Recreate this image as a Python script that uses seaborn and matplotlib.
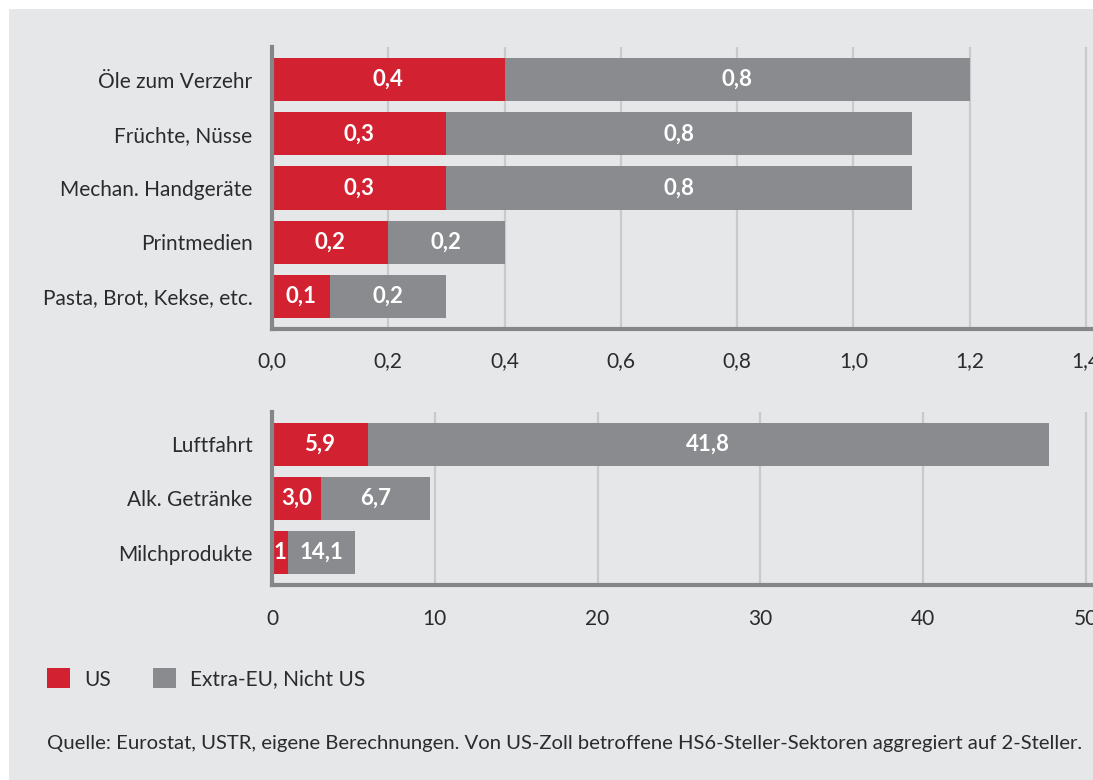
import numpy as np
import pandas as pd
import seaborn as sns
import matplotlib.pyplot as plt
from matplotlib.patches import Rectangle, Patch
from matplotlib.ticker import FuncFormatter

# --- Daten ---
kategorien_oben = ["Öle zum Verzehr", "Früchte, Nüsse", "Mechan. Handgeräte",
                   "Printmedien", "Pasta, Brot, Kekse, etc."]
us_oben = [0.4, 0.3, 0.3, 0.2, 0.1]
rest_oben = [0.8, 0.8, 0.8, 0.2, 0.2]
us_oben_txt = ["0,4", "0,3", "0,3", "0,2", "0,1"]
rest_oben_txt = ["0,8", "0,8", "0,8", "0,2", "0,2"]

kategorien_unten = ["Luftfahrt", "Alk. Getränke", "Milchprodukte"]
us_unten = [5.9, 3.0, 1.0]
rest_unten = [41.8, 6.7, 4.1]
us_unten_txt = ["5,9", "3,0", "1"]
rest_unten_txt = ["41,8", "6,7", "14,1"]

ticks_oben = [0.0, 0.2, 0.4, 0.6, 0.8, 1.0, 1.2, 1.4]
ticks_unten = [0, 10, 20, 30, 40, 50]

legende = ["US", "Extra-EU, Nicht US"]
quelle = ("Quelle: Eurostat, USTR, eigene Berechnungen. Von US-Zoll betroffene "
          "HS6-Steller-Sektoren aggregiert auf 2-Steller.")

# --- Stil ---
ROT = "#d22232"
GRAU = "#8a8b8e"
HG = "#e6e7e9"
ACHSE = "#858688"
GITTER = "#c9cacc"
TXT = "#2b2b2b"

sns.set_style("white")
plt.rcParams["font.family"] = ["Lato", "DejaVu Sans"]

W, H = 1093, 780
fig = plt.figure(figsize=(W / 100, H / 100), dpi=100, facecolor="white")
fig.patches.append(Rectangle((9 / W, 0), 1, (H - 9) / H, transform=fig.transFigure,
                             facecolor=HG, edgecolor="none", zorder=-10))

# Achsen laufen bis an den rechten Bildrand, letzter Tick liegt bei x=1086 px
X0, XTICK, XR = 272, 1086, W


def px_axes(top, bottom):
    return fig.add_axes([X0 / W, 1 - bottom / H, (XR - X0) / W, (bottom - top) / H])


def panel(ax, cats, us, rest, us_txt, rest_txt, ticks, fmt, pad):
    df = pd.DataFrame({"kat": cats, "us": us, "rest": rest})
    df["gesamt"] = df["us"] + df["rest"]
    sns.barplot(data=df, x="gesamt", y="kat", color=GRAU, width=0.8,
                saturation=1, errorbar=None, ax=ax, orient="h", linewidth=0)
    sns.barplot(data=df, x="us", y="kat", color=ROT, width=0.8,
                saturation=1, errorbar=None, ax=ax, orient="h", linewidth=0)
    for i, row in df.iterrows():
        ax.text(row["us"] / 2, i, us_txt[i], color="white", fontsize=16,
                fontweight="bold", ha="center", va="center")
        ax.text(row["us"] + row["rest"] / 2, i, rest_txt[i], color="white",
                fontsize=16, fontweight="bold", ha="center", va="center")
    ax.set_facecolor("none")
    ax.set_xlim(ticks[0], ticks[-1] * (XR - X0) / (XTICK - X0))
    ax.set_ylim(len(cats) - 0.4, -0.6)
    ax.set_xticks(ticks)
    ax.xaxis.set_major_formatter(FuncFormatter(fmt))
    ax.set_xlabel("")
    ax.set_ylabel("")
    ax.grid(axis="x", color=GITTER, lw=1.6)
    ax.set_axisbelow(True)
    for s in ["top", "right"]:
        ax.spines[s].set_visible(False)
    for s in ["left", "bottom"]:
        ax.spines[s].set_color(ACHSE)
        ax.spines[s].set_linewidth(3)
        ax.spines[s].set_zorder(5)
    ax.tick_params(axis="x", length=0, pad=pad, labelsize=15, labelcolor=TXT)
    ax.tick_params(axis="y", length=0, pad=14, labelsize=15, labelcolor=TXT)


ax1 = px_axes(47, 329)
panel(ax1, kategorien_oben, us_oben, rest_oben, us_oben_txt, rest_oben_txt,
      ticks_oben, lambda v, p: f"{v:.1f}".replace(".", ","), 16)

ax2 = px_axes(412, 585)
panel(ax2, kategorien_unten, us_unten, rest_unten, us_unten_txt, rest_unten_txt,
      ticks_unten, lambda v, p: f"{v:.0f}", 17)

handles = [Patch(facecolor=ROT, edgecolor="none"), Patch(facecolor=GRAU, edgecolor="none")]
fig.legend(handles, legende, loc="center left", bbox_to_anchor=(47 / W, 1 - 679 / H),
           ncol=2, frameon=False, fontsize=15, handlelength=1.1, handleheight=1.1,
           handletextpad=0.7, columnspacing=2.0, borderpad=0, borderaxespad=0,
           labelcolor=TXT)

fig.text(47 / W, 1 - 743 / H, quelle, fontsize=14.6, color=TXT, ha="left", va="center")

fig.savefig("out.png", dpi=100, facecolor="white")
